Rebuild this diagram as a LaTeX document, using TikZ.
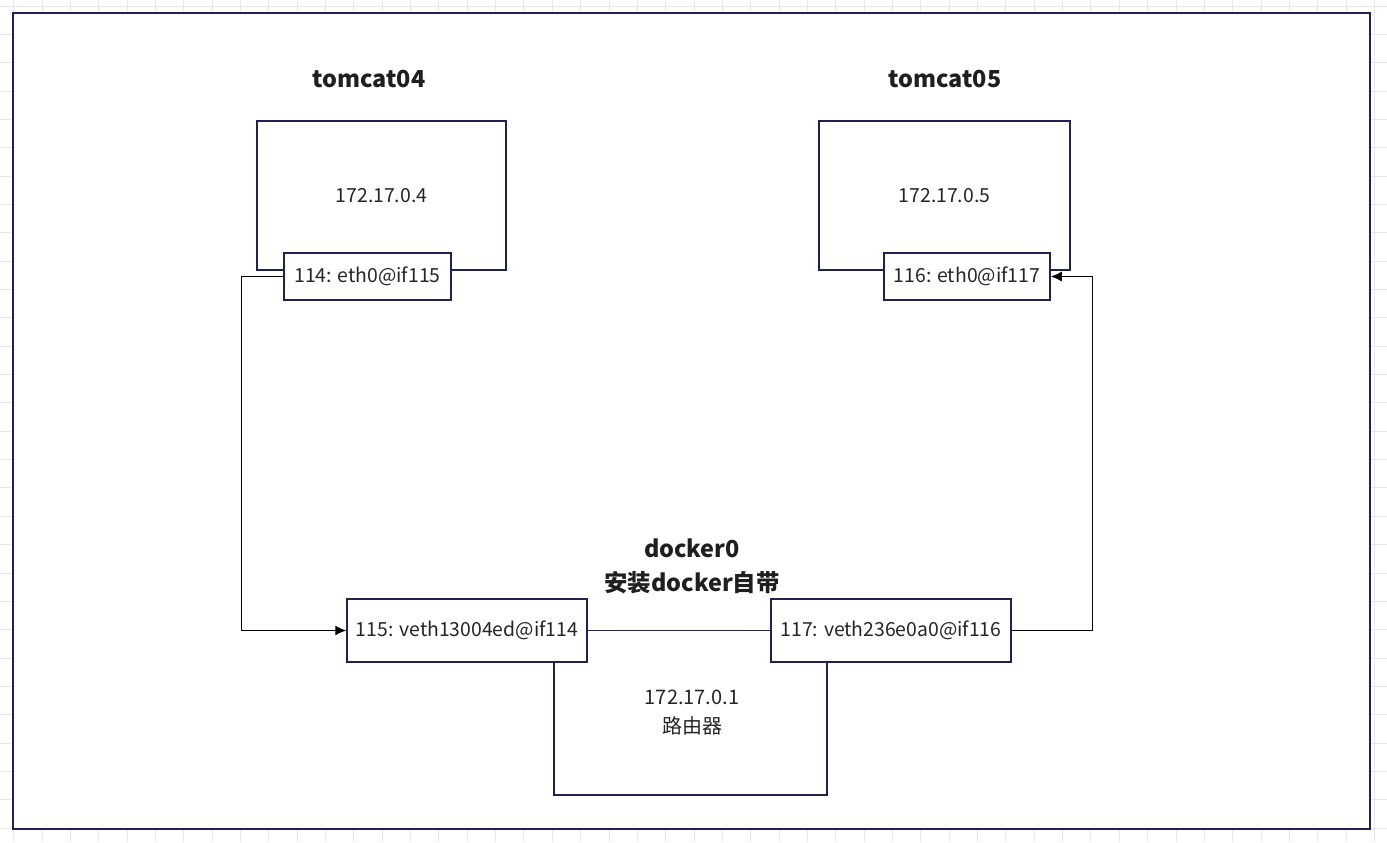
\documentclass[tikz,border=0pt]{standalone}
\usepackage{fontspec}
\setmainfont{Noto Sans CJK SC}
\usetikzlibrary{arrows.meta, positioning}

\definecolor{navy}{RGB}{30,35,80}
\definecolor{gridgray}{RGB}{232,232,232}

\tikzset{
  box/.style={draw=navy, line width=0.75pt, fill=white, inner sep=0pt, text=black!85,
    font=\fontsize{9.7}{12}\selectfont},
  link/.style={draw=black, line width=0.6pt, -{Latex[length=5.5pt,width=5pt]}},
  title/.style={font=\fontsize{11.7}{17}\selectfont\bfseries, text=black!88, align=center},
  txt/.style={font=\fontsize{10}{14.5}\selectfont, text=black!85, align=center},
}

\begin{document}
\begin{tikzpicture}[x=0.5pt,y=-0.5pt]
    \useasboundingbox (0,0) rectangle (1387,842);
    % background grid
    \foreach \i in {0,...,48}
        \draw[gridgray, line width=0.5pt] (13.65+28.35*\i,0) -- (13.65+28.35*\i,842);
    \foreach \j in {0,...,29}
        \draw[gridgray, line width=0.5pt] (0,6+28.35*\j) -- (1387,6+28.35*\j);
    % frame
    \draw[navy, line width=1pt, fill=white] (13,13) rectangle (1370,829);

    % containers
    \node[title] (N4) at (369,79) {tomcat04};
    \node[title] (N5) at (945,79) {tomcat05};
    \node[box, minimum width=124.5pt, minimum height=74.5pt] (T4) at (381.5,195.5) {172.17.0.4};
    \node[box, minimum width=125.5pt, minimum height=74.5pt] (T5) at (944.5,195.5) {172.17.0.5};
    \node[box, minimum width=83.5pt, minimum height=23.5pt] (E4) at (367.5,276.5) {114: eth0@if115};
    \node[box, minimum width=83pt, minimum height=23.5pt] (E5) at (967,276.5) {116: eth0@if117};

    % docker0
    \node[title] (D0) at (692,566) {docker0\\安装docker自带};
    \node[box, minimum width=120pt, minimum height=31.5pt] (V1) at (467,630.5) {115: veth13004ed@if114};
    \node[box, minimum width=120pt, minimum height=31.5pt] (V2) at (891,630.5) {117: veth236e0a0@if116};
    \coordinate (RL) at (554,795);
    \coordinate (RR) at (827,795);
    \draw[navy, line width=0.75pt] (V1.south -| RL) -- (RL) -- (RR) -- (V2.south -| RR);
    \node[txt] (R) at (692,713) {172.17.0.1\\路由器};
    \draw[navy, line width=0.75pt] (V1.east) -- (V2.west);

    % veth pairs
    \draw[link] (E4.west) -- ++(-42,0) |- (V1.west);
    \draw[link] (V2.east) -- ++(81,0) |- (E5.east);
\end{tikzpicture}
\end{document}
